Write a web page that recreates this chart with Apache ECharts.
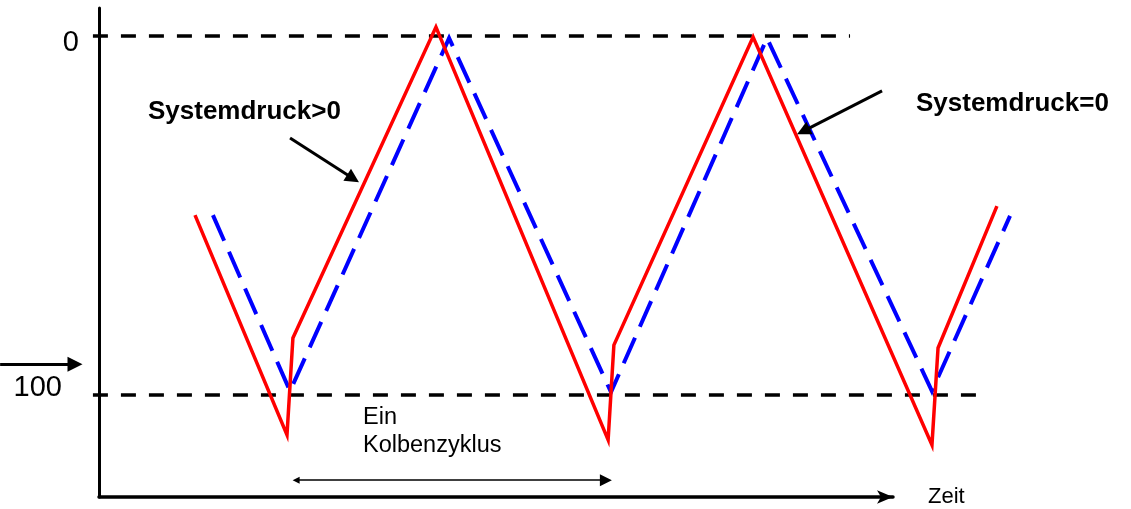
<!DOCTYPE html>
<html lang="de">
<head>
  <meta charset="UTF-8">
  <title>Kolbenzyklus</title>
  <script src="https://cdn.jsdelivr.net/npm/echarts@6/dist/echarts.min.js"></script>
</head>
<body style="margin:0">
<div id="main" style="width:1131px;height:509px"></div>
<script type="text/javascript">
  var FONT = 'Liberation Sans, Arial, sans-serif';

  // Druckverlauf, x = Zeit, y = Weg (0 oben, 100 unten)
  var redT = [30.0, 58.75, 60.6, 105.3, 159.1, 160.9, 204.4, 260.3, 262.2, 280.6];
  var redV = [49.9, 111.1, 84.1, -2.5, 112.5, 86.1, 0.3, 113.9, 86.9, 47.4];
  var blueT = [35.6, 59.7, 109.4, 160.0, 208.75, 260.3, 284.7];
  var blueV = [49.9, 98.9, 0.6, 99.2, 0.6, 98.9, 50.1];

  var yTicks = [0, 100];
  // gestrichelte Hilfslinien: [t von, t bis, wert]
  var guides = [[-1.9, 234.7, 0], [-1.9, 277.6, 100]];

  // Pfeile: [t1, v1, t2, v2]
  var arrows = [
    [-30.9, 91.4, -7.5, 91.4],
    [59.7, 28.4, 79.4, 39.7],
    [244.7, 15.3, 220.1, 26.5]
  ];
  var cycleArrow = [61.6, 123.7, 158.4, 123.7];

  // Beschriftungen: [text, t, v, size, weight]
  var notes = [
    ['Systemdruck>0', 15.3, 21.0, 26, 'bold'],
    ['Systemdruck=0', 255.3, 19.0, 26, 'bold'],
    ['Ein\nKolbenzyklus', 82.5, 110.2, 23.5, 'normal']
  ];

  function pairs(ts, vs) {
    return ts.map(function (t, i) { return [t, vs[i]]; });
  }

  var myChart = echarts.init(document.getElementById('main'));

  var option = {
    animation: false,
    grid: { left: 99, top: 8, width: 794, height: 489 },
    xAxis: {
      type: 'value',
      min: 0,
      max: 248.125,
      name: 'Zeit',
      nameLocation: 'end',
      nameGap: 35,
      nameTextStyle: { fontSize: 22, color: '#000', fontFamily: FONT },
      axisLine: {
        onZero: false,
        symbol: ['none', 'arrow'],
        symbolSize: [10, 16],
        lineStyle: { color: '#000', width: 3.5 }
      },
      axisTick: { show: false },
      axisLabel: { show: false },
      splitLine: { show: false }
    },
    yAxis: {
      type: 'value',
      inverse: true,
      min: -7.8,
      max: 128.4,
      axisLine: { show: true, onZero: false, lineStyle: { color: '#000', width: 3 } },
      axisTick: { show: false },
      splitLine: { show: false },
      axisLabel: {
        customValues: yTicks,
        margin: 20,
        color: '#000',
        fontFamily: FONT,
        formatter: function (v) {
          return v === 0 ? '{z|' + v + '}' : '{h|' + v + '}';
        },
        rich: {
          z: { fontSize: 29, fontFamily: FONT, color: '#000', padding: [13, 0, 0, 0] },
          h: { fontSize: 29, fontFamily: FONT, color: '#000', padding: [0, 17, 15, 0] }
        }
      }
    },
    series: [
      {
        type: 'lines',
        coordinateSystem: 'cartesian2d',
        clip: false,
        silent: true,
        symbol: 'none',
        lineStyle: { color: '#000', width: 3.5, type: [15, 13], opacity: 1 },
        data: guides.map(function (g) {
          return { coords: [[g[0], g[2]], [g[1], g[2]]] };
        })
      },
      {
        name: 'Systemdruck=0',
        type: 'lines',
        coordinateSystem: 'cartesian2d',
        polyline: true,
        clip: false,
        silent: true,
        lineStyle: { color: '#0000ff', width: 4, type: [28, 12], opacity: 1 },
        data: [{ coords: pairs(blueT, blueV) }]
      },
      {
        name: 'Systemdruck>0',
        type: 'lines',
        coordinateSystem: 'cartesian2d',
        polyline: true,
        clip: false,
        silent: true,
        lineStyle: { color: '#ff0000', width: 3.5, opacity: 1 },
        data: [{ coords: pairs(redT, redV) }]
      },
      {
        type: 'lines',
        coordinateSystem: 'cartesian2d',
        clip: false,
        silent: true,
        symbol: ['none', 'triangle'],
        symbolSize: [14, 14],
        lineStyle: { color: '#000', width: 3, opacity: 1 },
        itemStyle: { color: '#000' },
        data: arrows.map(function (a, i) {
          var d = { coords: [[a[0], a[1]], [a[2], a[3]]] };
          if (i === 0) d.symbolSize = [16, 15];
          return d;
        })
      },
      {
        type: 'lines',
        coordinateSystem: 'cartesian2d',
        clip: false,
        silent: true,
        symbol: ['triangle', 'triangle'],
        symbolSize: [7, 12],
        lineStyle: { color: '#000', width: 1.5, opacity: 1 },
        data: [{ coords: [[cycleArrow[0], cycleArrow[1]], [cycleArrow[2], cycleArrow[3]]] }]
      },
      {
        type: 'scatter',
        clip: false,
        silent: true,
        symbolSize: 0,
        itemStyle: { opacity: 1 },
        data: notes.map(function (n) {
          return {
            value: [n[1], n[2]],
            label: {
              show: true,
              position: 'right',
              distance: 0,
              formatter: n[0],
              fontSize: n[3],
              fontWeight: n[4],
              lineHeight: n[4] === 'bold' ? n[3] : 28,
              fontFamily: FONT,
              color: '#000',
              opacity: 1,
              align: 'left',
              verticalAlign: 'middle'
            }
          };
        })
      }
    ]
  };

  myChart.setOption(option);
</script>
</body>
</html>
